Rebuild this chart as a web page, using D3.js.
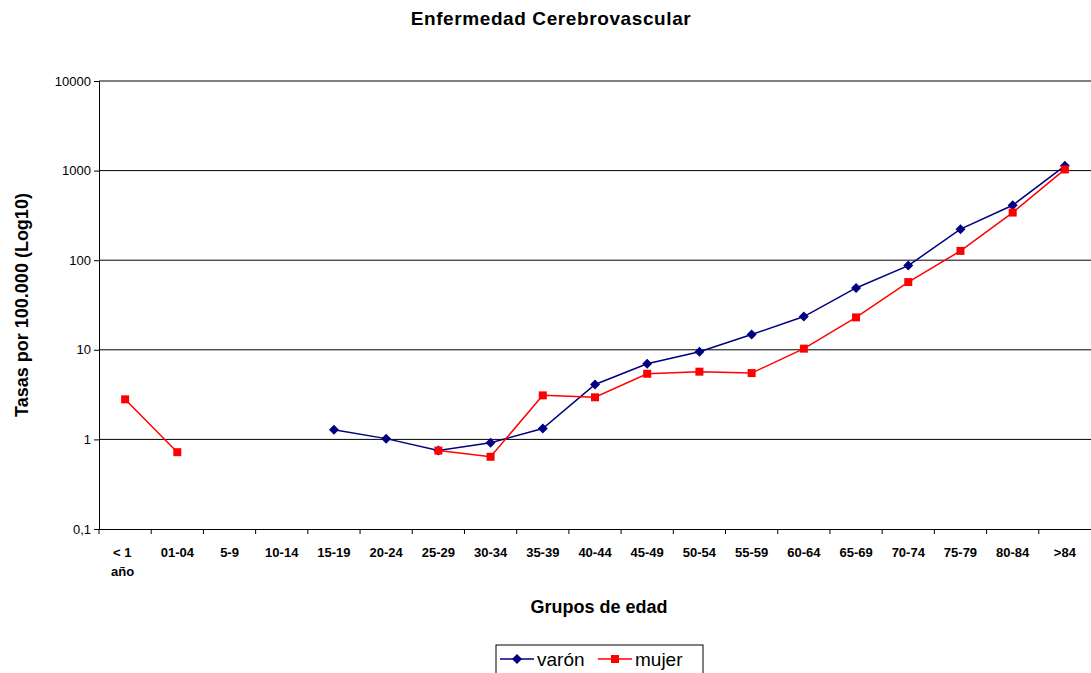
<!DOCTYPE html>
<html><head><meta charset="utf-8">
<script src="https://cdn.jsdelivr.net/npm/d3@7"></script>
<style>body{margin:0;background:#fff;font-family:Arial,"Liberation Sans",sans-serif}</style>
</head><body><div id="chart"></div>
<script>
var groups = ["< 1 año","01-04","5-9","10-14","15-19","20-24","25-29","30-34","35-39","40-44","45-49","50-54","55-59","60-64","65-69","70-74","75-79","80-84",">84"];
var varon = [null,null,null,null,1.28,1.02,0.75,0.92,1.32,4.1,7.0,9.5,14.8,23.5,49,87,222,410,1130];
var mujer = [2.8,0.72,null,null,null,null,0.75,0.64,3.1,2.95,5.4,5.7,5.5,10.3,23,57,127,340,1030];
var yTicks = [0.1,1,10,100,1000,10000];

var svgWidth = 1091, svgHeight = 673;
var margin = {top: 81, right: 0, bottom: 144, left: 99};
var chartWidth = svgWidth - margin.left - margin.right;
var chartHeight = svgHeight - margin.top - margin.bottom;

var svg = d3.select("#chart").append("svg")
    .attr("width", svgWidth).attr("height", svgHeight);

svg.append("text").attr("x", 551).attr("y", 25).attr("text-anchor", "middle")
    .attr("font-size", "19px").attr("font-weight", "bold").attr("letter-spacing", "0.6px")
    .text("Enfermedad Cerebrovascular");

var chartGroup = svg.append("g").attr("transform", `translate(${margin.left}, ${margin.top})`);

var x = d3.scaleBand().domain(groups).range([0, chartWidth]);
var y = d3.scaleLog().domain([0.1, 10000]).range([chartHeight, 0]);

chartGroup.selectAll("line.grid").data(yTicks.slice(1)).enter().append("line")
    .attr("x1", 0).attr("x2", chartWidth)
    .attr("y1", d => y(d)).attr("y2", d => y(d))
    .attr("stroke", "#000").attr("stroke-width", 1);

var leftAxis = d3.axisLeft(y).tickValues(yTicks).tickFormat(d => String(d).replace(".", ",")).tickSize(5);
chartGroup.append("g").call(leftAxis)
    .call(g => g.selectAll("text").attr("font-size", "13px").attr("fill", "#000").attr("font-family", "Arial"))
    .call(g => g.select(".domain").attr("stroke", "#000"));

var bottomAxis = d3.axisBottom(x).tickSize(0).tickFormat("");
chartGroup.append("g").attr("transform", `translate(0, ${chartHeight})`).call(bottomAxis)
    .call(g => g.select(".domain").attr("stroke", "#000"));
chartGroup.selectAll("line.xt").data(groups).enter().append("line")
    .attr("x1", d => x(d)).attr("x2", d => x(d))
    .attr("y1", chartHeight).attr("y2", chartHeight + 5).attr("stroke", "#000");

chartGroup.selectAll("text.xl").data(groups).enter().append("text")
    .attr("font-size", "13px").attr("font-weight", "bold").attr("text-anchor", "middle")
    .each(function(d) {
        var t = d3.select(this), cx = x(d) + x.bandwidth() / 2;
        if (d === "< 1 año") {
            t.attr("text-anchor", "start");
            t.append("tspan").attr("x", cx - 12).attr("y", chartHeight + 28).text("< 1");
            t.append("tspan").attr("x", cx - 14).attr("y", chartHeight + 47).text("año");
        } else {
            t.attr("x", cx).attr("y", chartHeight + 28).text(d);
        }
    });

chartGroup.append("text").attr("x", chartWidth / 2 + 4).attr("y", chartHeight + 84)
    .attr("text-anchor", "middle").attr("font-size", "18px").attr("font-weight", "bold").text("Grupos de edad");
chartGroup.append("text").attr("transform", "rotate(-90)")
    .attr("x", -chartHeight / 2).attr("y", -71)
    .attr("text-anchor", "middle").attr("font-size", "18px").attr("font-weight", "bold").text("Tasas por 100.000 (Log10)");

var diamond = "M0,-5L5,0L0,5L-5,0Z";
function marker(sel, shape) {
    if (shape === "diamond") sel.attr("d", diamond);
    else sel.attr("d", d3.symbol().type(d3.symbolSquare).size(64));
}
function draw(vals, color, shape) {
    var pts = vals.map((v, i) => ({g: groups[i], v: v}));
    var line = d3.line().defined(d => d.v != null)
        .x(d => x(d.g) + x.bandwidth() / 2).y(d => y(d.v));
    chartGroup.append("path").datum(pts).attr("d", line)
        .attr("fill", "none").attr("stroke", color).attr("stroke-width", 1.5);
    chartGroup.selectAll(null).data(pts.filter(d => d.v != null)).enter().append("path")
        .attr("transform", d => `translate(${x(d.g) + x.bandwidth() / 2},${y(d.v)})`)
        .call(marker, shape).attr("fill", color);
}
draw(varon, "#000080", "diamond");
draw(mujer, "#ff0000", "square");

var lg = svg.append("g").attr("transform", "translate(496,645)");
lg.append("rect").attr("width", 207).attr("height", 30).attr("fill", "#fff").attr("stroke", "#000");
[["varón", "#000080", "diamond", 4], ["mujer", "#ff0000", "square", 102]].forEach(function(s) {
    lg.append("line").attr("x1", s[3]).attr("x2", s[3] + 34).attr("y1", 14).attr("y2", 14)
        .attr("stroke", s[1]).attr("stroke-width", 1.5);
    lg.append("path").attr("transform", `translate(${s[3] + 17},14)`)
        .call(marker, s[2]).attr("fill", s[1]);
    lg.append("text").attr("x", s[3] + 37).attr("y", 21).attr("font-size", "19px").text(s[0]);
});
</script></body></html>
